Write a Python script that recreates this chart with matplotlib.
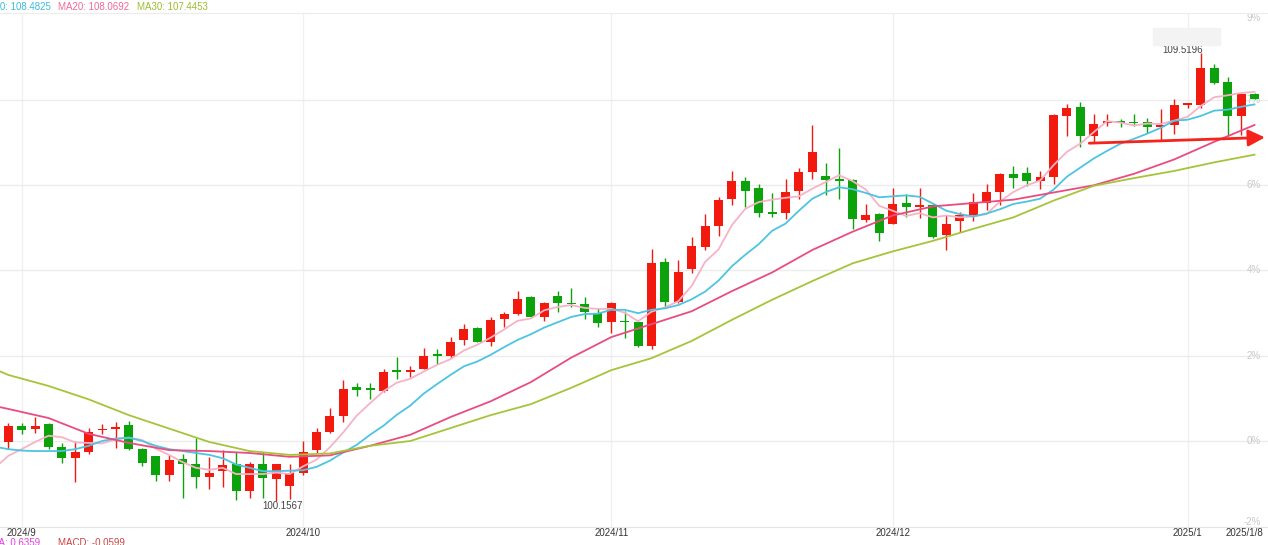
import matplotlib
matplotlib.use('Agg')
import matplotlib.pyplot as plt
from matplotlib.patches import Rectangle
import numpy as np

plt.rcParams['font.family'] = ['Liberation Sans', 'DejaVu Sans']

# daily candles, 2024-08-30 .. 2025-01-08 (index 0 .. 93)
opens = [101.39, 101.72, 101.66, 101.76, 101.28, 101.06, 101.19, 101.63, 101.66, 101.74,
         101.24, 101.10, 100.69, 101.03, 100.94, 100.66, 100.78, 100.93, 100.37, 100.93,
         100.61, 100.46, 100.75, 101.22, 101.60, 101.94, 102.53, 102.50, 102.46, 102.89,
         102.86, 102.91, 103.21, 103.19, 103.51, 103.76, 103.47, 103.96, 104.06, 104.41,
         104.01, 104.44, 104.29, 104.27, 104.08, 103.89, 103.92, 103.89, 103.39, 105.14,
         104.31, 105.00, 105.47, 105.91, 106.46, 106.84, 106.69, 106.19, 106.17, 106.63,
         107.02, 106.95, 106.88, 106.86, 106.03, 106.15, 105.94, 106.39, 106.30, 106.34,
         105.71, 106.00, 106.12, 106.38, 106.62, 106.99, 107.01, 106.85, 106.92, 108.20,
         108.38, 107.77, 108.06, 108.08, 108.07, 108.07, 107.97, 108.01, 108.43, 108.43,
         109.21, 108.91, 108.20, 108.66]
highs = [101.79, 101.78, 101.92, 101.78, 101.36, 101.40, 101.68, 101.76, 101.80, 101.83,
         101.26, 101.10, 101.12, 101.13, 101.47, 101.08, 101.22, 101.19, 100.98, 101.19,
         100.93, 100.92, 101.40, 101.68, 102.09, 102.68, 102.62, 102.63, 102.91, 103.16,
         102.98, 103.35, 103.33, 103.59, 103.85, 103.80, 103.99, 104.10, 104.54, 104.44,
         104.32, 104.55, 104.61, 104.41, 104.19, 104.32, 104.13, 103.92, 105.41, 105.24,
         105.18, 105.68, 106.15, 106.50, 107.04, 106.93, 106.78, 106.60, 106.88, 107.12,
         108.02, 107.21, 107.52, 106.88, 106.37, 106.18, 106.69, 106.57, 106.69, 106.35,
         106.12, 106.19, 106.60, 106.77, 107.01, 107.15, 107.13, 107.05, 108.23, 108.44,
         108.48, 108.23, 108.25, 108.14, 108.25, 108.15, 108.34, 108.55, 108.45, 109.52,
         109.28, 109.02, 108.66, 108.67]
lows = [101.24, 101.56, 101.58, 101.24, 100.96, 100.55, 101.13, 101.56, 101.26, 101.22,
        100.89, 100.58, 100.57, 100.23, 100.43, 100.41, 100.45, 100.18, 100.23, 100.23,
        100.157, 100.20, 100.70, 101.15, 101.57, 101.80, 102.36, 102.28, 102.44, 102.71,
        102.75, 102.91, 103.01, 103.14, 103.42, 103.47, 103.40, 103.80, 104.04, 104.01,
        103.92, 104.10, 104.20, 103.96, 103.80, 103.66, 103.57, 103.37, 103.33, 104.18,
        104.29, 104.91, 105.40, 105.69, 106.34, 106.29, 106.08, 106.08, 106.04, 106.46,
        106.88, 106.55, 106.46, 105.83, 105.99, 105.59, 105.94, 106.08, 106.06, 105.66,
        105.40, 105.77, 106.00, 106.24, 106.34, 106.69, 106.74, 106.67, 106.78, 107.78,
        107.54, 107.63, 107.99, 107.97, 107.99, 107.84, 107.70, 107.82, 108.37, 108.36,
        108.86, 107.77, 107.80, 108.55]
closes = [101.72, 101.65, 101.72, 101.29, 101.06, 101.17, 101.60, 101.66, 101.70, 101.25,
          100.96, 100.69, 101.01, 100.94, 100.66, 100.74, 100.91, 100.37, 100.93, 100.63,
          100.92, 100.75, 101.19, 101.60, 101.94, 102.49, 102.48, 102.48, 102.86, 102.86,
          102.89, 103.19, 103.19, 103.48, 103.75, 103.47, 103.94, 104.06, 104.38, 104.01,
          104.30, 104.29, 104.27, 104.10, 103.88, 104.29, 103.89, 103.39, 105.12, 104.31,
          104.93, 105.48, 105.91, 106.44, 106.84, 106.64, 106.18, 106.15, 106.62, 107.03,
          107.44, 106.86, 106.85, 106.04, 106.12, 105.75, 106.35, 106.30, 106.33, 105.68,
          105.94, 106.13, 106.40, 106.62, 106.98, 106.91, 106.83, 106.92, 108.22, 108.36,
          107.78, 108.03, 108.08, 108.06, 108.05, 107.97, 107.99, 108.43, 108.45, 109.19,
          108.88, 108.20, 108.66, 108.55]

# moving averages (index -1 .. 93)
ma5 = [100.85, 101.10, 101.24, 101.39, 101.52, 101.49, 101.38, 101.37, 101.36, 101.44,
       101.48, 101.43, 101.25, 101.12, 100.97, 100.85, 100.81, 100.85, 100.72, 100.72,
       100.72, 100.75, 100.72, 100.88, 101.02, 101.28, 101.59, 101.94, 102.20, 102.45,
       102.63, 102.71, 102.86, 103.00, 103.12, 103.30, 103.42, 103.57, 103.74, 103.92,
       103.97, 104.14, 104.21, 104.25, 104.19, 104.17, 104.17, 104.09, 103.91, 104.11,
       104.20, 104.33, 104.65, 105.15, 105.41, 105.92, 106.26, 106.40, 106.45, 106.49,
       106.52, 106.68, 106.82, 106.96, 106.84, 106.66, 106.32, 106.22, 106.11, 106.17,
       106.08, 106.12, 106.08, 106.10, 106.15, 106.41, 106.61, 106.75, 106.85, 107.17,
       107.45, 107.62, 107.86, 108.09, 108.06, 108.00, 108.04, 108.03, 108.10, 108.18,
       108.41, 108.59, 108.63, 108.68, 108.70]
ma10 = [101.29, 101.24, 101.21, 101.20, 101.20, 101.20, 101.24, 101.31, 101.41, 101.46,
        101.48, 101.41, 101.31, 101.24, 101.20, 101.16, 101.12, 101.05, 100.92, 100.85,
        100.78, 100.78, 100.79, 100.80, 100.87, 101.00, 101.17, 101.33, 101.54, 101.73,
        101.96, 102.15, 102.40, 102.60, 102.79, 102.97, 103.07, 103.21, 103.37, 103.52,
        103.64, 103.78, 103.89, 104.00, 104.06, 104.07, 104.15, 104.15, 104.08, 104.15,
        104.18, 104.25, 104.37, 104.53, 104.76, 105.06, 105.30, 105.52, 105.80, 105.95,
        106.22, 106.47, 106.61, 106.71, 106.67, 106.59, 106.50, 106.52, 106.54, 106.51,
        106.37, 106.22, 106.15, 106.10, 106.16, 106.25, 106.36, 106.41, 106.47, 106.66,
        106.93, 107.12, 107.31, 107.47, 107.62, 107.72, 107.83, 107.95, 108.10, 108.12,
        108.20, 108.31, 108.33, 108.39, 108.44]
ma_slow_idx = [-1, 0, 3, 6, 9, 12, 15, 18, 21, 24, 27, 30, 33, 36, 39, 42, 45,
               48, 51, 54, 57, 60, 63, 66, 69, 72, 75, 78, 81, 84, 87, 90, 93]
ma20 = [102.14, 102.08, 101.89, 101.56, 101.37, 101.22, 101.20, 101.16, 101.08, 101.11,
        101.31, 101.54, 101.91, 102.24, 102.64, 103.15, 103.58, 103.85, 104.12, 104.54,
        104.93, 105.40, 105.78, 106.12, 106.31, 106.38, 106.45, 106.60, 106.75, 106.99,
        107.29, 107.66, 108.01]
ma30 = [102.91, 102.79, 102.56, 102.28, 101.95, 101.67, 101.39, 101.20, 101.12, 101.15,
        101.31, 101.41, 101.68, 101.95, 102.18, 102.52, 102.89, 103.14, 103.50, 103.94,
        104.36, 104.75, 105.12, 105.37, 105.59, 105.84, 106.08, 106.43, 106.74, 106.90,
        107.05, 107.23, 107.39]

month_idx = [1, 22, 45, 66, 88]
month_labels = ['2024/9', '2024/10', '2024/11', '2024/12', '2025/1']
last_label = '2025/1/8'

grid_prices = [101.41, 103.18, 104.98, 106.76, 108.53]
grid_pct = ['0%', '2%', '4%', '6%', '7%']
top_pct, bottom_pct = '9%', '-2%'
y_range = (99.614, 110.349)

legend_texts = ['MA10: 108.4825', 'MA20: 108.0692', 'MA30: 107.4453']
macd_texts = ['DEA: 0.6359', 'MACD: -0.0599']
low_label = '100.1567'
high_label = '109.5196'
arrow_start_idx = 81
arrow_end_price = 107.75

# colours
c_up = '#f2190f'
c_down = '#0ca20c'
c_ma5 = '#f7b3c6'
c_ma10 = '#4cc4e2'
c_ma20 = '#ea4c7f'
c_ma30 = '#a6c43a'
c_grid = '#ececec'
c_pct = '#c8c8c8'

W, H = 1268, 545
fig = plt.figure(figsize=(W / 100, H / 100), dpi=100)
ax = fig.add_axes([0, (H - 527) / H, 1, (527 - 13) / H])

o = np.array(opens)
c = np.array(closes)
x = np.arange(len(c))
col = np.where(c >= o, c_up, c_down)

# Kerzen
ax.vlines(x, lows, highs, colors=col, lw=1.0, zorder=2)
body = np.maximum(np.abs(c - o), 0.03)
ax.bar(x, body, bottom=np.minimum(o, c), width=0.67, color=col, linewidth=0, zorder=3)

# Durchschnittslinien
xm = np.arange(-1, len(c))
ax.plot(xm, ma5, color=c_ma5, lw=1.3, zorder=4)
ax.plot(xm, ma10, color=c_ma10, lw=1.3, zorder=4)
ax.plot(ma_slow_idx, ma20, color=c_ma20, lw=1.3, zorder=4)
ax.plot(ma_slow_idx, ma30, color=c_ma30, lw=1.3, zorder=4)

ax.set_xlim(-8.3 / 13.4, (W - 8.3) / 13.4)
ax.set_ylim(*y_range)

# Gitter
ax.set_yticks(grid_prices)
ax.tick_params(axis='y', length=0, labelleft=False)
ax.set_xticks(month_idx, month_labels)
ax.tick_params(axis='x', length=0, pad=0.8, labelsize=7, labelcolor='#333333')
ax.grid(axis='y', color=c_grid, lw=1, zorder=0)
ax.grid(axis='x', color='#f0f0f0', lw=1, zorder=0)
ax.set_axisbelow(True)
for s in ['left', 'right']:
    ax.spines[s].set_visible(False)
ax.spines['top'].set_color(c_grid)
ax.spines['bottom'].set_color('#e4e4e4')

tf = ax.get_yaxis_transform()
for p, l in zip(grid_prices, grid_pct):
    ax.text(0.9945, p, l, transform=tf, ha='right', va='center', fontsize=7, color=c_pct, zorder=1)
ax.text(0.9945, y_range[1], top_pct, transform=tf, ha='right', va='top', fontsize=7, color=c_pct, zorder=1)
ax.text(0.9945, y_range[0], bottom_pct, transform=tf, ha='right', va='bottom', fontsize=7, color=c_pct, zorder=1)

ax.annotate(last_label, xy=(len(c) - 1, 0), xycoords=('data', 'axes fraction'),
            xytext=(9, -1), textcoords='offset pixels', ha='right', va='top',
            fontsize=7, color='#333333', annotation_clip=False)

# Extremwerte
i_hi = int(np.argmax(highs))
i_lo = int(np.argmin(lows))
fig.add_artist(Rectangle((1153 / W, 1 - 45 / H), 67 / W, 17 / H, transform=fig.transFigure,
                         color='#f3f3f3', zorder=1))
ax.annotate(high_label, xy=(i_hi, highs[i_hi]), xytext=(2, -2), textcoords='offset pixels',
            ha='right', va='bottom', fontsize=7, color='#444444', zorder=6)
ax.annotate(low_label, xy=(i_lo, lows[i_lo]), xytext=(6, 0), textcoords='offset pixels',
            ha='center', va='top', fontsize=7, color='#444444', zorder=6)

# roter Pfeil
ax.annotate('', xy=(0.9976, arrow_end_price), xycoords=('axes fraction', 'data'),
            xytext=(arrow_start_idx - 0.33, lows[arrow_start_idx]), textcoords='data',
            arrowprops=dict(arrowstyle='-|>', color='#f5231c', lw=2.0, mutation_scale=25,
                            shrinkA=0, shrinkB=0), zorder=7)

# Legende oben (links angeschnitten wie im Original)
ty = 1 - 6.5 / H
fig.text(51 / W, ty, legend_texts[0], ha='right', va='center', fontsize=7, color='#3cbcdc')
fig.text(58 / W, ty, legend_texts[1], ha='left', va='center', fontsize=7, color='#f26a95')
fig.text(137 / W, ty, legend_texts[2], ha='left', va='center', fontsize=7, color='#9cbd30')

# MACD-Zeile (unten angeschnitten wie im Original)
by = (H - 545.5) / H
fig.text(40 / W, by, macd_texts[0], ha='right', va='baseline', fontsize=7, color='#e040e0')
fig.text(58 / W, by, macd_texts[1], ha='left', va='baseline', fontsize=7, color='#cc4444')

fig.savefig('out.png', dpi=100)
